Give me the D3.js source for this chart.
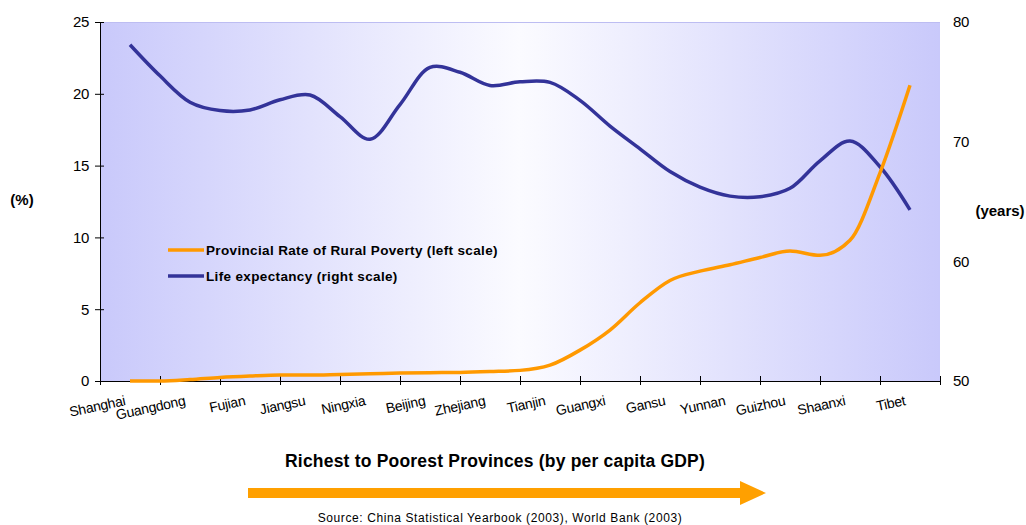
<!DOCTYPE html>
<html>
<head>
<meta charset="utf-8">
<script src="https://cdn.jsdelivr.net/npm/d3@7"></script>
<style>
  html, body { margin: 0; padding: 0; background: #ffffff; }
  svg { display: block; font-family: "Liberation Sans", Arial, sans-serif; }
</style>
</head>
<body>
<svg id="chart" width="1026" height="525"></svg>
<script>
// ---- data ----
const provinces = ["Shanghai", "Guangdong", "Fujian", "Jiangsu", "Ningxia", "Beijing", "Zhejiang",
  "Tianjin", "Guangxi", "Gansu", "Yunnan", "Guizhou", "Shaanxi", "Tibet"];
// samples every half category, from Shanghai (0) to Tibet (13)
const samplePositions = [0, 0.5, 1, 1.5, 2, 2.5, 3, 3.5, 4, 4.5, 5, 5.5, 6, 6.5, 7, 7.5, 8, 8.5, 9, 9.5, 10, 10.5, 11, 11.5, 12, 12.5, 13];
const povertyRate = [0.0, 0.0, 0.1, 0.25, 0.35, 0.42, 0.42, 0.46, 0.5, 0.55, 0.58, 0.6, 0.66, 0.74,
  1.1, 2.15, 3.55, 5.45, 7.0, 7.65, 8.1, 8.6, 9.05, 8.75, 9.8, 14.5, 20.6];
const lifeExpectancy = [78.1, 75.5, 73.3, 72.6, 72.65, 73.5, 73.9, 72.1, 70.2, 73.1, 76.2, 75.8, 74.7, 75.0,
  74.95, 73.45, 71.3, 69.4, 67.5, 66.2, 65.45, 65.4, 66.1, 68.4, 70.05, 67.9, 64.3];
const leftTicks = [0, 5, 10, 15, 20, 25];
const rightTicks = [50, 60, 70, 80];
const seriesNames = ["Provincial Rate of Rural Poverty (left scale)", "Life expectancy (right scale)"];
const seriesColors = ["#ff9900", "#333399"];

// ---- layout ----
const svg = d3.select("#chart");
const L = 100, R = 940, T = 22, B = 381;

const x = d3.scaleLinear().domain([-0.5, provinces.length - 0.5]).range([L, R]);
const yL = d3.scaleLinear().domain([0, 25]).range([B, T]);
const yR = d3.scaleLinear().domain([50, 80]).range([B, T]);

// background gradient
const defs = svg.append("defs");
const grad = defs.append("linearGradient").attr("id", "bg").attr("x1", "0%").attr("x2", "100%").attr("y1", "0%").attr("y2", "0%");
grad.append("stop").attr("offset", "0%").attr("stop-color", "#c9c9fb");
grad.append("stop").attr("offset", "50%").attr("stop-color", "#fbfbff");
grad.append("stop").attr("offset", "100%").attr("stop-color", "#c9c9fb");

svg.append("rect").attr("x", L).attr("y", T).attr("width", R - L).attr("height", B - T).attr("fill", "url(#bg)");
svg.append("line").attr("x1", L).attr("x2", R).attr("y1", T + 0.5).attr("y2", T + 0.5)
  .attr("stroke", "#bdbdf2").attr("stroke-width", 1);

const tickFont = sel => sel.attr("font-size", 15).attr("fill", "#000").attr("letter-spacing", "-0.4px")
  .attr("font-family", "Liberation Sans, Arial, sans-serif");

// left axis
const gL = svg.append("g").attr("transform", `translate(${L},0)`)
  .call(d3.axisLeft(yL).tickValues(leftTicks).tickSize(5).tickPadding(6));
gL.selectAll(".tick line").attr("x2", 4).attr("x1", -5);
gL.select(".domain").attr("d", `M0.5,${T}V${B}`).attr("stroke", "#000");
gL.selectAll("text").call(tickFont);

// right axis (labels only)
const gR = svg.append("g").attr("transform", `translate(${R},0)`)
  .call(d3.axisRight(yR).tickValues(rightTicks).tickSize(0).tickPadding(13));
gR.select(".domain").remove();
gR.selectAll("text").call(tickFont);

// bottom axis
const boundaries = d3.range(provinces.length + 1).map(i => i - 0.5);
const gB = svg.append("g").attr("transform", `translate(0,${B})`)
  .call(d3.axisBottom(x).tickValues(boundaries).tickSize(4).tickFormat(""));
gB.selectAll(".tick line").attr("y1", -5).attr("y2", 4);
gB.select(".domain").attr("d", `M${L},0.5H${R}`).attr("stroke", "#000");

// category labels
svg.append("g").selectAll("text").data(provinces).join("text")
  .attr("transform", (d, i) => `translate(${x(i) - 4},${B + 24}) rotate(-12)`)
  .attr("text-anchor", "end")
  .attr("font-size", 14)
  .attr("letter-spacing", "-0.3px")
  .attr("fill", "#000")
  .text(d => d);

// lines
const povData = samplePositions.map((p, i) => [p, povertyRate[i]]);
const lifeData = samplePositions.map((p, i) => [p, lifeExpectancy[i]]);

svg.append("path").datum(lifeData)
  .attr("fill", "none").attr("stroke", seriesColors[1]).attr("stroke-width", 3.5)
  .attr("stroke-linejoin", "round")
  .attr("d", d3.line().x(d => x(d[0])).y(d => yR(d[1])).curve(d3.curveCatmullRom.alpha(0.5)));

svg.append("path").datum(povData)
  .attr("fill", "none").attr("stroke", seriesColors[0]).attr("stroke-width", 3.5)
  .attr("stroke-linejoin", "round")
  .attr("d", d3.line().x(d => x(d[0])).y(d => yL(d[1])).curve(d3.curveMonotoneX));

// legend
const leg = svg.append("g").attr("transform", "translate(168,250)");
seriesNames.forEach((name, i) => {
  const g = leg.append("g").attr("transform", `translate(0,${i * 26})`);
  g.append("line").attr("x1", 0).attr("x2", 36).attr("y1", 0).attr("y2", 0)
    .attr("stroke", seriesColors[i]).attr("stroke-width", 3.5);
  g.append("text").attr("x", 38).attr("y", 5).attr("font-size", 13.5).attr("font-weight", "bold")
    .attr("letter-spacing", "0.35px").attr("fill", "#000").text(name);
});

// axis unit labels
svg.append("text").attr("x", 22).attr("y", 205).attr("text-anchor", "middle")
  .attr("font-size", 15).attr("font-weight", "bold").attr("letter-spacing", "0px").attr("fill", "#000").text("(%)");
svg.append("text").attr("x", 1000).attr("y", 216).attr("text-anchor", "middle")
  .attr("font-size", 15).attr("font-weight", "bold").attr("letter-spacing", "0px").attr("fill", "#000").text("(years)");

// x title
svg.append("text").attr("x", 495).attr("y", 467).attr("text-anchor", "middle")
  .attr("font-size", 17.5).attr("font-weight", "bold").attr("letter-spacing", "0.2px").attr("fill", "#000")
  .text("Richest to Poorest Provinces (by per capita GDP)");

// arrow
const arrowPath = d3.path();
arrowPath.moveTo(248, 488); arrowPath.lineTo(740, 488); arrowPath.lineTo(740, 481);
arrowPath.lineTo(766, 493); arrowPath.lineTo(740, 505); arrowPath.lineTo(740, 498);
arrowPath.lineTo(248, 498); arrowPath.closePath();
svg.append("path").attr("d", arrowPath.toString()).attr("fill", "#ffa000");

// source
svg.append("text").attr("x", 500).attr("y", 522).attr("text-anchor", "middle")
  .attr("font-size", 12).attr("letter-spacing", "0.6px").attr("fill", "#000")
  .text("Source: China Statistical Yearbook (2003), World Bank (2003)");
</script>
</body>
</html>
